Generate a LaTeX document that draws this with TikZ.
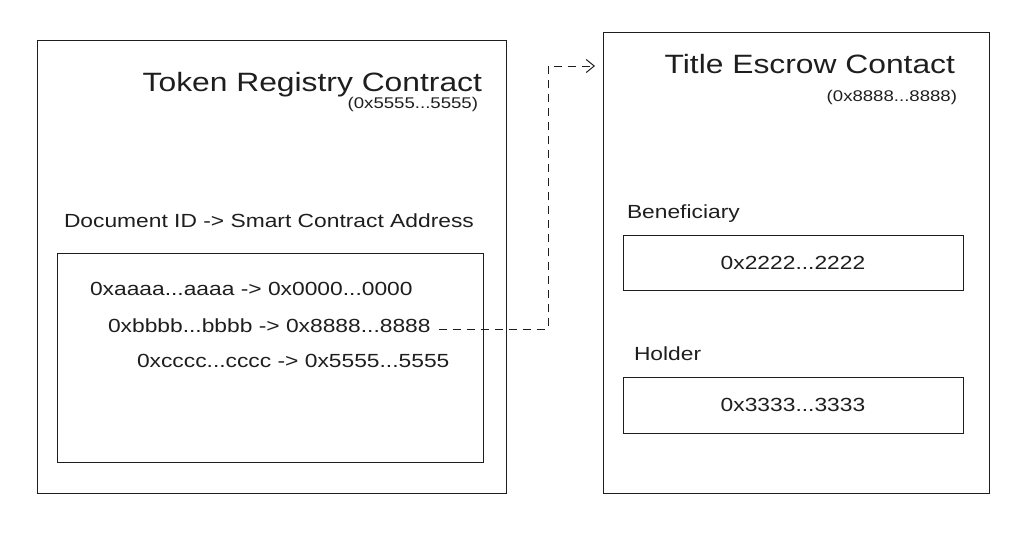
\documentclass[tikz,border=0pt]{standalone}
\usepackage{fontspec}
\setmainfont{Liberation Sans}[FakeStretch=1.2]
\usetikzlibrary{arrows.meta}
\definecolor{tinta}{HTML}{1E1E1E}
\begin{document}
\begin{tikzpicture}[x=1pt, y=-1pt,
  every node/.style={inner sep=0pt, outer sep=0pt, text=tinta},
  line width=1pt
]
\tikzset{
  caixa/.style={draw=tinta, rectangle, anchor=north west},
  titulo/.style={font=\fontsize{26.5}{32}\selectfont},
  texto/.style={font=\fontsize{19}{23}\selectfont},
  endereco/.style={font=\fontsize{15.5}{19}\selectfont},
  seta/.style={draw=tinta, dash pattern=on 8pt off 6pt,
    -{Straight Barb[length=8pt, width=13pt]}}
}
\useasboundingbox (0,0) rectangle (1029,542);

\node[caixa, minimum width=469pt, minimum height=453pt] (registro) at (37,40) {};
\node[titulo, anchor=base east] (tituloReg) at (482,91) {Token Registry Contract};
\node[endereco, anchor=base east] (endReg) at (478,108) {(0x5555...5555)};
\node[texto, anchor=base west] (cabecalho) at (64,227) {Document ID -> Smart Contract Address};
\node[caixa, minimum width=426pt, minimum height=209pt] (mapa) at (57,253) {};
\node[texto, anchor=base west] (linhaA) at (90,295) {0xaaaa...aaaa -> 0x0000...0000};
\node[texto, anchor=base west] (linhaB) at (108,332) {0xbbbb...bbbb -> 0x8888...8888};
\node[texto, anchor=base west] (linhaC) at (137,367) {0xcccc...cccc -> 0x5555...5555};

\node[caixa, minimum width=386pt, minimum height=461pt] (escrow) at (603,32) {};
\node[titulo, anchor=base east] (tituloEsc) at (955,73) {Title Escrow Contact};
\node[endereco, anchor=base east] (endEsc) at (957,101) {(0x8888...8888)};
\node[texto, anchor=base west] (rotBenef) at (627,218) {Beneficiary};
\node[caixa, minimum width=340pt, minimum height=55pt] (benef) at (623,235) {};
\node[texto] (valBenef) at (benef.center) {0x2222...2222};
\node[texto, anchor=base west] (rotHolder) at (634,360) {Holder};
\node[caixa, minimum width=340pt, minimum height=56pt] (holder) at (623,377) {};
\node[texto] (valHolder) at (holder.center) {0x3333...3333};

\coordinate (canto) at (548,66);
\draw[seta, shorten >=8pt] ([xshift=8pt, yshift=3pt]linhaB.base east) -| (canto) -- (escrow.west |- canto);
\end{tikzpicture}
\end{document}
